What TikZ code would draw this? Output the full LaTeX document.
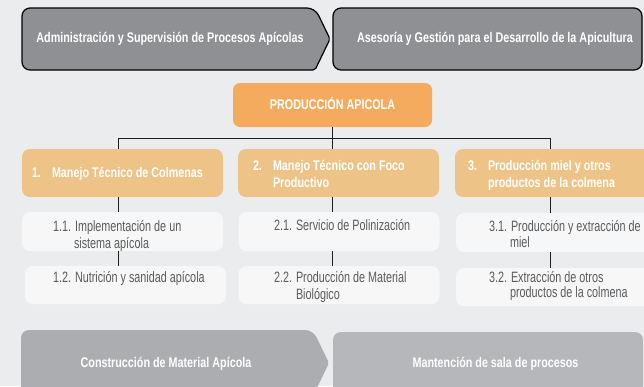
\documentclass[tikz,border=0pt]{standalone}
\usepackage{fontspec}
\setmainfont{Liberation Sans}
\newfontfamily\fntB[FakeStretch=0.77]{Liberation Sans Bold}
\newfontfamily\fntR[FakeStretch=0.72]{Liberation Sans}
\definecolor{bgc}{HTML}{EBECEE}
\definecolor{topc}{HTML}{8E9093}
\definecolor{orangec}{HTML}{F5AB5E}
\definecolor{catc}{HTML}{EDC388}
\definecolor{subc}{HTML}{F7F7F7}
\definecolor{botA}{HTML}{ABADB0}
\definecolor{botB}{HTML}{B6B7BA}
\definecolor{subtxt}{HTML}{5A5B5D}
\definecolor{linec}{HTML}{1E1E1E}
\begin{document}
\begin{tikzpicture}[x=1pt,y=-1pt,
  every node/.style={inner sep=0pt,outer sep=0pt},
  ttl/.style={font=\fntB\fontsize{14}{16}\selectfont,text=white},
  subt/.style={font=\fntR\fontsize{15}{17}\selectfont,text=subtxt},
  topshape/.style={draw=black,line width=1.2pt,fill=topc},
  prodbox/.style={fill=orangec,rounded corners=7pt,minimum width=199pt,minimum height=44pt},
  catbox/.style={fill=catc,rounded corners=8pt,minimum width=201pt,minimum height=48pt},
  subbox/.style={fill=subc,rounded corners=8pt,minimum width=201pt,minimum height=39pt},
  conn/.style={draw=linec,line width=1pt}]
\useasboundingbox (0,0) rectangle (644,386);
\clip (0,0) rectangle (644,386);
\fill[bgc] (0,0) rectangle (644,386);
% top row
\draw[topshape] (22,39) [rounded corners=8pt] -- (22,8) -- (315,8) [rounded corners=2pt] -- (330,39) -- (315,70) [rounded corners=8pt] -- (22,70) -- cycle;
\node[topshape,rounded corners=8pt,minimum width=309pt,minimum height=62pt] (ase) at (487.5,39) {};
\node[ttl,anchor=base] (admt) at (170,42) {Administración y Supervisión de Procesos Apícolas};
\node[ttl,anchor=base] (aset) at (495,42) {Asesoría y Gestión para el Desarrollo de la Apicultura};
% production
\node[prodbox] (prod) at (332.5,105) {};
\node[ttl,anchor=base] (prodt) at (332.5,109.5) {PRODUCCIÓN APICOLA};
% categories
\node[catbox] (c1) at (122.5,173) {};
\node[catbox] (c2) at (338.5,173) {};
\node[catbox] (c3) at (555.5,173) {};
\node[ttl,anchor=base west] (n1) at (32,177.5) {1.};
\node[ttl,anchor=base west] (c1t) at (52,177.5) {Manejo Técnico de Colmenas};
\node[ttl,anchor=base west] (n2) at (253,170) {2.};
\node[ttl,anchor=base west] (c2ta) at (273,170) {Manejo Técnico con Foco};
\node[ttl,anchor=base west] (c2tb) at (273,187.5) {Productivo};
\node[ttl,anchor=base west] (n3) at (468,170) {3.};
\node[ttl,anchor=base west] (c3ta) at (488,170) {Producción miel y otros};
\node[ttl,anchor=base west] (c3tb) at (488,187.5) {productos de la colmena};
% sub boxes
\node[subbox] (s11) at (122.5,231.5) {};
\node[subbox,minimum height=38pt] (s12) at (125.5,285) {};
\node[subbox] (s21) at (339,231.5) {};
\node[subbox,minimum height=38pt] (s22) at (339,285) {};
\node[subbox] (s31) at (556.5,232.5) {};
\node[subbox,minimum height=38pt] (s32) at (556.5,287) {};
\node[subt,anchor=base west] (t11a) at (53,231) {1.1. Implementación de un};
\node[subt,anchor=base west] (t11b) at (74,248) {sistema apícola};
\node[subt,anchor=base west] (t12) at (53,282.5) {1.2. Nutrición y sanidad apícola};
\node[subt,anchor=base west] (t21) at (274,230.5) {2.1. Servicio de Polinización};
\node[subt,anchor=base west] (t22a) at (274,282) {2.2. Producción de Material};
\node[subt,anchor=base west] (t22b) at (296,299) {Biológico};
\node[subt,anchor=base west] (t31a) at (489,231.5) {3.1. Producción y extracción de};
\node[subt,anchor=base west] (t31b) at (510,247) {miel};
\node[subt,anchor=base west] (t32a) at (489,282) {3.2. Extracción de otros};
\node[subt,anchor=base west] (t32b) at (510,297.5) {productos de la colmena};
% connectors
\coordinate (bl) at (118,138);
\coordinate (bm) at (332.5,138);
\coordinate (br) at (550,138);
\draw[conn] (prod.south) -- (bm);
\draw[conn] (bl) -- (br);
\draw[conn] (bl) -- (bl |- c1.north);
\draw[conn] (bm) -- (bm |- c2.north);
\draw[conn] (br) -- (br |- c3.north);
\draw[conn] (c1.south -| bl) -- (s11.north -| bl);
\draw[conn] (s11.south -| bl) -- (s12.north -| bl);
\draw[conn] (c2.south -| bm) -- (s21.north -| bm);
\draw[conn] (s21.south -| bm) -- (s22.north -| bm);
\draw[conn] (c3.south -| br) -- (s31.north -| br);
\draw[conn] (s31.south -| br) -- (s32.north -| br);
% bottom row
\fill[botA] (21,363) [rounded corners=8pt] -- (21,330) -- (313,330) [rounded corners=2pt] -- (329,363) -- (313,396) [rounded corners=8pt] -- (21,396) -- cycle;
\node[fill=botB,rounded corners=8pt,minimum width=310pt,minimum height=64pt] (man) at (488,364) {};
\node[ttl,anchor=base] (cont) at (166,367) {Construcción de Material Apícola};
\node[ttl,anchor=base] (mant) at (495.5,367) {Mantención de sala de procesos};
\end{tikzpicture}
\end{document}
